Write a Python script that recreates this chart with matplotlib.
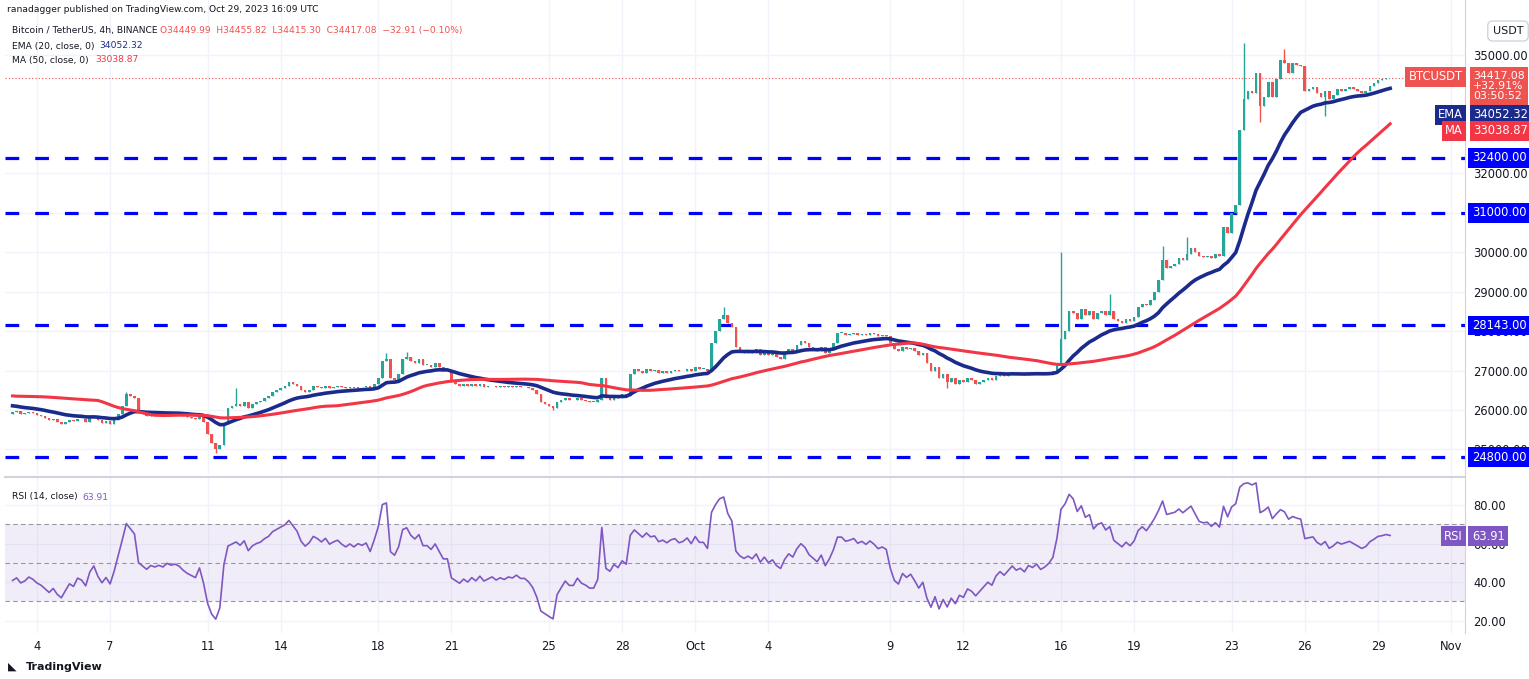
import numpy as np
import matplotlib
matplotlib.use("Agg")
import matplotlib.pyplot as plt

# ---------------- data ----------------
# warm-up 4h closes (Aug 26 - Sep 2), not shown, used for EMA/MA/RSI seeding
warmup_closes = [26050,26000,26020,26050,26030,26010, 26000,26050,26080,26100,26060,26100,
                 26050,26100,26150,26120,26080,26100, 26100,26150,27200,27600,27700,27650,
                 27500,27400,27300,27200,27250,27300, 27200,27100,27050,26600,26100,26000,
                 25900,25800,25700,25850,25700,25800, 25850,25900,25880,25850,25870,25900]
# day number (Sep d -> d, Oct d -> 30+d) and 6 four-hour closes per day
day_numbers = list(range(3, 60))
daily_closes = [
 [25950,25980,25900,25920,25960,25930],[25880,25850,25800,25750,25780,25700],
 [25650,25700,25750,25720,25780,25760],[25700,25800,25850,25750,25680,25720],
 [25650,25750,25900,26100,26400,26350],[26300,25950,25900,25850,25900,25880],
 [25900,25880,25920,25900,25910,25890],[25850,25820,25800,25780,25850,25700],
 [25400,25150,25000,25100,25650,26050],[26100,26150,26100,26200,26050,26150],
 [26200,26230,26300,26350,26450,26500],[26550,26600,26700,26650,26600,26500],
 [26450,26500,26600,26580,26550,26600],[26550,26580,26600,26570,26550,26580],
 [26560,26590,26580,26600,26550,26650],[26800,27250,27300,26800,26750,26900],
 [27300,27350,27250,27200,27300,27150],[27150,27100,27200,27100,27000,27000],
 [26700,26650,26600,26650,26600,26650],[26600,26650,26580,26600,26620,26580],
 [26600,26580,26600,26590,26610,26580],[26580,26550,26500,26400,26200,26150],
 [26100,26050,26200,26250,26300,26250],[26250,26300,26250,26230,26200,26200],
 [26250,26800,26300,26250,26350,26300],[26400,26350,26900,27050,27000,26950],
 [27050,27000,27020,26950,26980,26950],[27000,27020,26980,27000,27050,27000],
 [27100,27050,27050,27000,27700,28000],[28300,28400,28200,28100,27600,27500],
 [27450,27500,27450,27550,27400,27500],[27400,27450,27350,27300,27450,27550],
 [27500,27650,27750,27700,27600,27550],[27500,27600,27450,27550,27700,27950],
 [27950,27900,27920,27950,27900,27930],[27900,27950,27920,27880,27900,27880],
 [27700,27550,27500,27600,27550,27580],[27500,27400,27450,27200,27000,27100],
 [26800,26900,26700,26800,26650,26750],[26700,26800,26750,26650,26700,26750],
 [26800,26750,26850,26900,26850,26900],[26950,26900,26920,26880,26940,26920],
 [26950,26900,26920,26950,27000,27200],[27800,28000,28500,28450,28300,28550],
 [28400,28500,28300,28450,28500,28400],[28500,28300,28250,28200,28300,28250],
 [28350,28600,28700,28650,28800,29000],[29300,29800,29600,29650,29700,29850],
 [29800,29950,30100,30000,29900,29880],[29900,29850,29950,29900,30650,30500],
 [31000,31200,33100,33900,34100,34050],[34560,33700,33950,34330,33950,34400],
 [34870,34800,34560,34800,34750,34720],[34100,34150,34200,34030,33950,34100],
 [33900,34000,34150,34100,34150,34200],[34150,34100,34050,34100,34230,34300],
 [34380,34400,34430,34417],
]
# notable wicks: (day, slot, high, low)
wicks = [(7,4,26450,None),(11,2,None,24900),(12,1,26550,None),(18,2,27450,None),
         (19,1,27480,None),(32,1,28600,None),(46,0,30000,None),(48,0,28950,None),
         (50,1,30150,None),(51,1,30380,None),(53,3,35300,None),(54,1,None,33300),
         (55,1,35150,None),(56,5,None,33450),(41,2,None,26550),(25,1,None,26000)]
levels = [32400, 31000, 28143, 24800]
price_ticks = [25000,26000,27000,28000,29000,30000,31000,32000,35000]
xtick_days = [4,7,11,14,18,21,25,28,31,34,39,42,46,49,53,56,59,62]
xtick_labels = ["4","7","11","14","18","21","25","28","Oct","4","9","12","16","19","23","26","29","Nov"]
# values printed in the chart legend / price scale
last_ohlc = "O34449.99  H34455.82  L34415.30  C34417.08  \u221232.91 (\u22120.10%)"
last_price_label = "34417.08\n+32.91%\n03:50:52"
ema_last, ma_last, rsi_last = "34052.32", "33038.87", "63.91"

# ---------------- build series ----------------
t, closes = [], []
for d, row in zip(day_numbers, daily_closes):
    for s, c in enumerate(row):
        t.append(d + s/6); closes.append(c)
t = np.array(t); closes = np.array(closes, float)
allc = np.concatenate([warmup_closes, closes])
opens = np.concatenate([[warmup_closes[-1]], closes[:-1]])
highs = np.maximum(opens, closes); lows = np.minimum(opens, closes)
for d, s, h, l in wicks:
    i = day_numbers.index(d)*6 + s
    if h: highs[i] = h
    if l: lows[i] = l

ema = np.zeros_like(allc); ema[0] = allc[0]; a = 2/21
for i in range(1, len(allc)): ema[i] = a*allc[i] + (1-a)*ema[i-1]
ma = np.array([allc[max(0,i-49):i+1].mean() for i in range(len(allc))])
diff = np.diff(allc); g = np.maximum(diff,0); lo = np.maximum(-diff,0)
ag = g[:14].mean(); al = lo[:14].mean(); rsi = [np.nan]*15
for i in range(14, len(diff)):
    ag = (ag*13+g[i])/14; al = (al*13+lo[i])/14
    rsi.append(100-100/(1+ag/al) if al>0 else 100)
rsi = np.array(rsi)
n0 = len(warmup_closes)
ema_v, ma_v, rsi_v = ema[n0:], ma[n0:], rsi[n0:]

# ---------------- figure ----------------
W, H = 1529, 679
fig = plt.figure(figsize=(W/100, H/100), dpi=100)
def fa(x0, y0, x1, y1):
    return [x0/W, 1-y1/H, (x1-x0)/W, (y1-y0)/H]
ax = fig.add_axes(fa(5, 0, 1465, 475))
ax2 = fig.add_axes(fa(5, 478, 1465, 633), sharex=ax)
up, dn = '#26a69a', '#ef5350'
gridc = '#f0f3fa'
navy, red, purple = '#1b2b8c', '#f23645', '#7e57c2'

ax.set_ylim(24350, 36400)
ax.set_xlim(2.69, 62.57)
for a_ in (ax, ax2):
    a_.set_xticks(xtick_days)
    a_.grid(True, color=gridc, lw=1)
    a_.set_axisbelow(True)
    for sp in a_.spines.values(): sp.set_visible(False)
    a_.yaxis.tick_right()
    a_.tick_params(length=0, labelsize=8.3, colors='#131722', pad=6)
ax.set_yticks(price_ticks)
ax.set_yticklabels([f"{v:.2f}" for v in price_ticks])
ax.tick_params(axis='x', labelbottom=False)
ax2.set_xticklabels(xtick_labels)
ax2.tick_params(axis='x', pad=5)

cols = np.where(closes >= opens, up, dn)
bw = 0.65/6
ax.vlines(t, lows, highs, colors=cols, lw=1, zorder=3)
hgt = np.maximum(np.abs(closes-opens), 15)
ax.bar(t, hgt, bottom=np.minimum(opens, closes), width=bw, color=cols, zorder=4)
ax.plot(t, ema_v, color=navy, lw=2.6, zorder=5)
ax.plot(t, ma_v, color=red, lw=2.2, zorder=5)
for lv in levels:
    ax.axhline(lv, color='#0000ff', lw=2.3, dashes=(4.3, 5), zorder=2)
ax.axhline(closes[-1], color=dn, lw=0.8, ls=(0, (1, 2)), zorder=2)

def ybox(axis, y, text, fc):
    axis.annotate(text, (1.0, y), xycoords=('axes fraction', 'data'), xytext=(5, 0),
                  textcoords='offset points', va='center', ha='left', fontsize=8.3, color='white',
                  bbox=dict(boxstyle='square,pad=0.3', fc=fc, ec='none'), annotation_clip=False,
                  zorder=10)
for lv in levels:
    ybox(ax, lv, f"{lv:.2f}", '#0000ff')

def ftext(x, y, s, fc, ha='left', fs=8.3, **kw):
    fig.text(x/W, 1-y/H, s, fontsize=fs, color='white', va='center', ha=ha,
             bbox=dict(boxstyle='square,pad=0.3', fc=fc, ec='none'), **kw)
ftext(1473, 86, last_price_label, dn, fs=7.8, linespacing=1.05)
ftext(1463, 77, "BTCUSDT", dn, ha='right')
ftext(1473, 115, ema_last, navy)
ftext(1463, 115, "EMA", navy, ha='right')
ftext(1473, 131, ma_last, red)
ftext(1463, 131, "MA", red, ha='right')
fig.text(1508/W, 1-31/H, "USDT", fontsize=8, color='#131722', va='center', ha='center',
         bbox=dict(boxstyle='round,pad=0.45', fc='white', ec='#d1d4dc'))

# RSI panel
ax2.set_ylim(13.6, 94)
ax2.set_yticks([20, 40, 60, 80])
ax2.set_yticklabels(["20.00", "40.00", "60.00", "80.00"])
ax2.axhspan(30, 70, color=purple, alpha=0.1, lw=0)
for lv in (70, 50, 30):
    ax2.axhline(lv, color='#9598a1', lw=0.8, ls=(0, (4, 3)))
ax2.plot(t, rsi_v, color=purple, lw=1.2)
ybox(ax2, float(rsi_last), rsi_last, purple)
fig.text(1463/W, 1-(633-(float(rsi_last)-13.6)/(94-13.6)*155)/H, "RSI", fontsize=8.3, color='white',
         va='center', ha='right', bbox=dict(boxstyle='square,pad=0.3', fc=purple, ec='none'))
fig.add_artist(plt.Line2D([5/W, 1465/W], [1-476.5/H]*2, color='#d1d4dc', lw=1.5))
fig.add_artist(plt.Line2D([1465/W]*2, [1-633/H, 1], color='#d1d4dc', lw=0.8))

# texts
fs = 6.6
fig.text(7/W, 1-9/H, "ranadagger published on TradingView.com, Oct 29, 2023 16:09 UTC",
         fontsize=fs, color='#131722', va='center')
fig.text(12/W, 1-31/H, "Bitcoin / TetherUS, 4h, BINANCE", fontsize=fs, color='#131722', va='center')
fig.text(160/W, 1-31/H, last_ohlc, fontsize=fs, color=dn, va='center')
fig.text(12/W, 1-46/H, "EMA (20, close, 0)", fontsize=fs, color='#131722', va='center')
fig.text(99/W, 1-46/H, ema_last, fontsize=fs, color=navy, va='center')
fig.text(12/W, 1-60/H, "MA (50, close, 0)", fontsize=fs, color='#131722', va='center')
fig.text(95/W, 1-60/H, ma_last, fontsize=fs, color=red, va='center')
fig.text(12/W, 1-497/H, "RSI (14, close)", fontsize=fs, color='#131722', va='center')
fig.text(82/W, 1-497/H, rsi_last, fontsize=fs, color=purple, va='center')
fig.text(26/W, 1-667/H, "TradingView", fontsize=8, color='#131722', va='center', weight='bold')
fig.text(8/W, 1-667/H, "\u25e3", fontsize=8, color='#131722', va='center')

fig.savefig("out.png", dpi=100)
